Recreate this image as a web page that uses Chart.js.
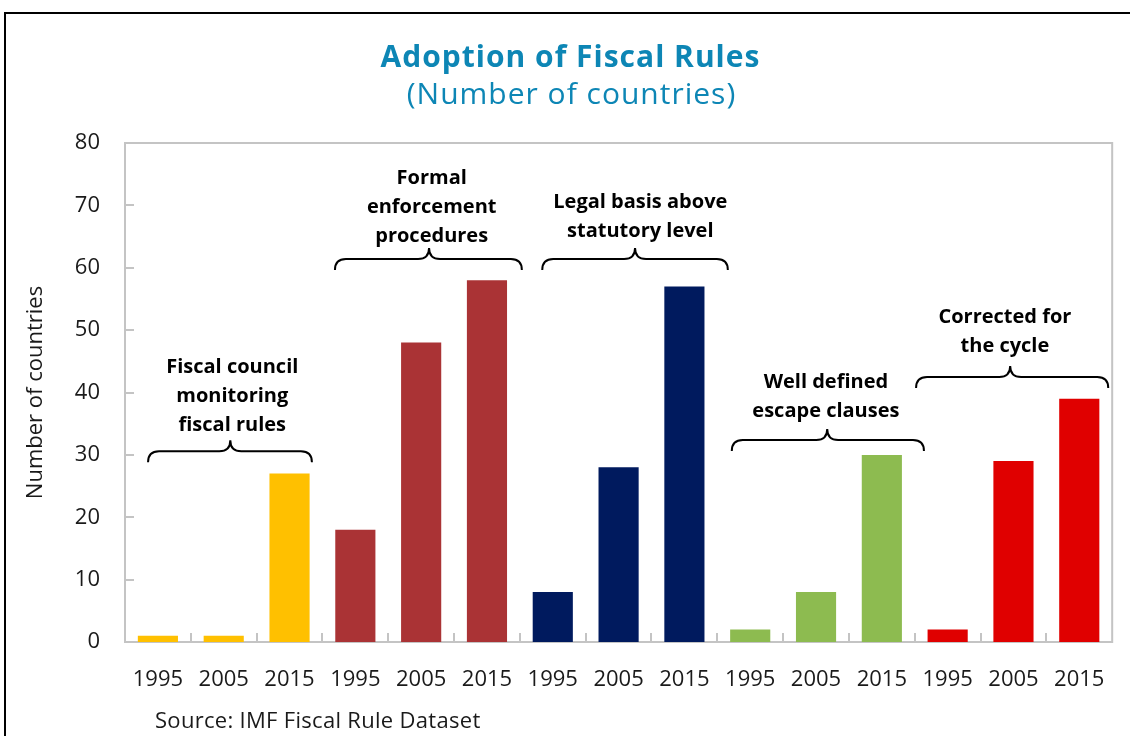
<!DOCTYPE html>
<html>
<head>
<meta charset="utf-8">
<script src="https://cdn.jsdelivr.net/npm/chart.js@4/dist/chart.umd.min.js"></script>
<style>
  html, body { margin: 0; padding: 0; background: #ffffff; }
  #wrap { position: absolute; left: 0; top: 0; width: 1130px; height: 736px; }
</style>
</head>
<body>
<div id="wrap"><canvas id="c" width="1130" height="736"></canvas></div>
<script>
// ---- Data ----
const years = ['1995', '2005', '2015'];
const groupNames = ['Fiscal council monitoring fiscal rules', 'Formal enforcement procedures', 'Legal basis above statutory level', 'Well defined escape clauses', 'Corrected for the cycle'];
const fiscalCouncil = [1, 1, 27];
const formalEnforcement = [18, 48, 58];
const legalBasis = [8, 28, 57];
const escapeClauses = [2, 8, 30];
const correctedForCycle = [2, 29, 39];
const yTickValues = [0, 10, 20, 30, 40, 50, 60, 70, 80];

const chartTitle = 'Adoption of Fiscal Rules';
const chartSubtitle = '(Number of countries)';
const yAxisTitle = 'Number of countries';
const sourceNote = 'Source: IMF Fiscal Rule Dataset';

// ---- Styles ----
const groupColors = ['#FFC000', '#AA3335', '#001A5E', '#8DBB50', '#E00000'];
const FONT = '"Open Sans", "Noto Sans", sans-serif';

// Annotation layout (in category-index / value units)
const groupNotes = [
  { lines: ['Fiscal council', 'monitoring', 'fiscal rules'], textX: 1.13, textAt: 44.1, from: -0.15, to: 2.34, tip: 1.10, braceAt: 30.6 },
  { lines: ['Formal', 'enforcement', 'procedures'], textX: 4.16, textAt: 74.4, from: 2.69, to: 5.53, tip: 4.12, braceAt: 61.4 },
  { lines: ['Legal basis above', 'statutory level'], textX: 7.33, textAt: 70.5, from: 5.84, to: 8.66, tip: 7.25, braceAt: 61.4 },
  { lines: ['Well defined', 'escape clauses'], textX: 10.15, textAt: 41.7, from: 8.72, to: 11.64, tip: 10.17, braceAt: 32.4 },
  { lines: ['Corrected for', 'the cycle'], textX: 12.87, textAt: 52.1, from: 11.52, to: 14.44, tip: 12.95, braceAt: 42.5 }
];

// ---- Build flat arrays ----
const seriesList = [fiscalCouncil, formalEnforcement, legalBasis, escapeClauses, correctedForCycle];
const labels = [];
const values = [];
const colors = [];
seriesList.forEach((s, g) => {
  s.forEach((v, i) => { labels.push(years[i]); values.push(v); colors.push(groupColors[g]); });
});

function drawBrace(ctx, x1, x2, xt, y) {
  const down = 11, up = 11, r = 11;
  ctx.beginPath();
  ctx.moveTo(x1, y + down);
  ctx.quadraticCurveTo(x1, y, x1 + r, y);
  ctx.lineTo(xt - r, y);
  ctx.quadraticCurveTo(xt, y, xt, y - up);
  ctx.quadraticCurveTo(xt, y, xt + r, y);
  ctx.lineTo(x2 - r, y);
  ctx.quadraticCurveTo(x2, y, x2, y + down);
  ctx.stroke();
}

function spacedText(ctx, text, x, y, spacing) {
  if ('letterSpacing' in ctx) {
    ctx.letterSpacing = spacing + 'px';
    let dx = 0;
    if (ctx.textAlign === 'center') dx = spacing / 2;
    ctx.fillText(text, x + dx, y);
    ctx.letterSpacing = '0px';
  } else {
    ctx.fillText(text, x, y);
  }
}

const decorPlugin = {
  id: 'decor',
  beforeDraw(chart) {
    const ctx = chart.ctx;
    ctx.save();
    ctx.fillStyle = '#ffffff';
    ctx.fillRect(0, 0, chart.width, chart.height);
    // outer frame
    ctx.strokeStyle = '#000000';
    ctx.lineWidth = 2;
    ctx.strokeRect(5, 13, 1200, 800);
    // titles
    ctx.fillStyle = '#0D86B5';
    ctx.textAlign = 'center';
    ctx.textBaseline = 'alphabetic';
    ctx.font = 'bold 30px ' + FONT;
    spacedText(ctx, chartTitle, 570, 67, 1);
    ctx.font = '30px ' + FONT;
    spacedText(ctx, chartSubtitle, 571, 104, 1);
    // source
    ctx.fillStyle = '#1a1a1a';
    ctx.textAlign = 'left';
    ctx.font = '22px ' + FONT;
    spacedText(ctx, sourceNote, 155, 728, 0.3);
    ctx.restore();
  },
  beforeDatasetsDraw(chart) {
    const ctx = chart.ctx;
    const a = chart.chartArea;
    const xs = chart.scales.x, ys = chart.scales.y;
    ctx.save();
    ctx.strokeStyle = '#C4C4C4';
    ctx.lineWidth = 2;
    ctx.strokeRect(a.left, a.top, a.right - a.left, a.bottom - a.top);
    ctx.beginPath();
    yTickValues.forEach(v => {
      if (v === 0 || v === 80) return;
      const y = Math.round(ys.getPixelForValue(v));
      ctx.moveTo(a.left, y); ctx.lineTo(a.left + 9, y);
    });
    for (let i = 0; i < labels.length - 1; i++) {
      const x = Math.round((xs.getPixelForValue(i) + xs.getPixelForValue(i + 1)) / 2);
      ctx.moveTo(x, a.bottom); ctx.lineTo(x, a.bottom - 9);
    }
    ctx.stroke();
    ctx.restore();
  },
  afterDatasetsDraw(chart) {
    const ctx = chart.ctx;
    const xs = chart.scales.x, ys = chart.scales.y;
    const step = xs.getPixelForValue(1) - xs.getPixelForValue(0);
    const px = v => xs.getPixelForValue(0) + v * step;
    ctx.save();
    ctx.strokeStyle = '#000000';
    ctx.lineWidth = 2;
    ctx.fillStyle = '#000000';
    ctx.font = 'bold 20px ' + FONT;
    ctx.textAlign = 'center';
    ctx.textBaseline = 'middle';
    groupNotes.forEach(n => {
      drawBrace(ctx, px(n.from), px(n.to), px(n.tip), ys.getPixelForValue(n.braceAt));
      const y0 = ys.getPixelForValue(n.textAt);
      n.lines.forEach((t, k) => ctx.fillText(t, px(n.textX), y0 + k * 29));
    });
    ctx.restore();
  }
};

new Chart(document.getElementById('c'), {
  type: 'bar',
  data: {
    labels: labels,
    datasets: [{
      label: 'Number of countries',
      data: values,
      backgroundColor: colors,
      borderWidth: 0,
      barPercentage: 0.61,
      categoryPercentage: 1.0
    }]
  },
  options: {
    responsive: false,
    animation: false,
    devicePixelRatio: 1,
    layout: { padding: { left: 0, right: 17, top: 143, bottom: 0 } },
    plugins: {
      legend: { display: false },
      tooltip: { enabled: false },
      title: { display: false }
    },
    scales: {
      x: {
        grid: { display: false, drawTicks: false },
        border: { display: false },
        ticks: { color: '#1a1a1a', font: { family: FONT, size: 22 }, padding: 25, maxRotation: 0, autoSkip: false },
        afterFit(scale) { scale.height = 94; }
      },
      y: {
        min: 0, max: 80,
        afterBuildTicks(scale) { scale.ticks = yTickValues.map(v => ({ value: v })); },
        grid: { display: false, drawTicks: false },
        border: { display: false },
        ticks: { color: '#1a1a1a', font: { family: FONT, size: 22 }, padding: 25 },
        title: { display: true, text: yAxisTitle, color: '#1a1a1a', font: { family: FONT, size: 22 }, padding: { top: 23, bottom: 0 } },
        afterFit(scale) { scale.width = 125; }
      }
    }
  },
  plugins: [decorPlugin]
});
</script>
</body>
</html>
